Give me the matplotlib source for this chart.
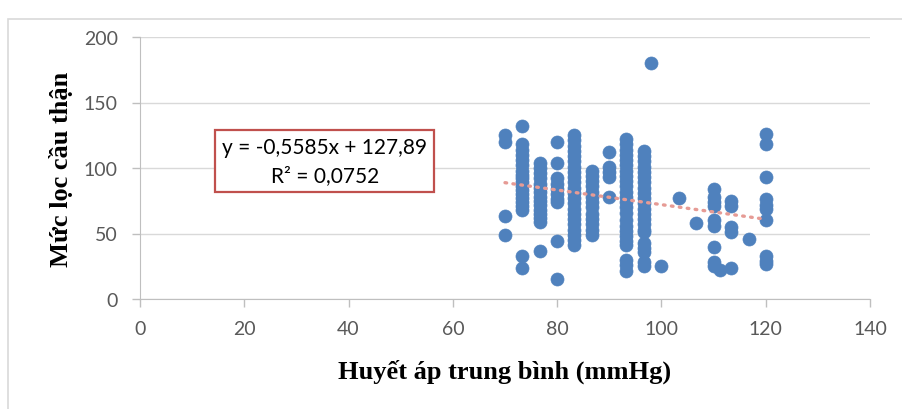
import numpy as np
import matplotlib
matplotlib.use("Agg")
import matplotlib.pyplot as plt
from matplotlib.patches import Rectangle

# mean arterial pressure columns and the kidney filtration values in each
map_cols = [70, 73.3, 76.7, 80, 83.3, 86.7, 90, 93.3, 96.7, 98, 100,
            103.3, 106.7, 110, 111.3, 113.3, 116.7, 120]
gfr_cols = [
    [125, 120, 63, 49],
    [132, 118, 114, 110, 106, 102, 98, 95, 92, 89, 86, 83, 80, 77, 74, 71, 68, 33, 24],
    [104, 100, 96, 92, 88, 85, 82, 78, 75, 72, 68, 65, 62, 59, 37],
    [120, 104, 92, 88, 84, 80, 76, 74, 44, 15],
    [125, 121, 117, 113, 109, 105, 101, 97, 93, 89, 85, 81, 77, 73, 69, 65,
     61, 57, 53, 49, 45, 41],
    [98, 94, 90, 86, 82, 78, 74, 70, 65, 61, 57, 53, 49],
    [112, 101, 97, 93, 78],
    [122, 118, 114, 110, 106, 102, 98, 94, 90, 86, 82, 78, 74, 70, 66, 60,
     56, 52, 48, 44, 41, 30, 26, 21],
    [113, 109, 105, 101, 97, 93, 89, 85, 81, 77, 73, 69, 65, 61, 57, 53, 51,
     43, 39, 36, 28, 25],
    [180],
    [25],
    [77],
    [58],
    [84, 78, 74, 71, 60, 56, 40, 28, 25],
    [22],
    [75, 71, 55, 51, 24],
    [46],
    [126, 118, 93, 76, 72, 69, 60, 33, 29, 27],
]

# trendline as printed on the chart
slope = -0.5585
intercept = 127.89
r2 = 0.0752

x_ticks = [0, 20, 40, 60, 80, 100, 120, 140]
y_ticks = [0, 50, 100, 150, 200]

xs = np.concatenate([[x] * len(ys) for x, ys in zip(map_cols, gfr_cols)])
ys = np.concatenate(gfr_cols)

fig = plt.figure(figsize=(9.02, 4.10), dpi=100)
fig.patches.append(Rectangle((8 / 902, -0.1), 1.1, (400 - 10) / 410 + 0.1,
                             transform=fig.transFigure, fill=False,
                             edgecolor="#D9D9D9", linewidth=1.2))

ax = fig.add_axes([140 / 902, (410 - 300) / 410, 730 / 902, 262 / 410])

ax.scatter(xs, ys, s=88, color="#4F81BD", edgecolor="#4F81BD", linewidth=0.5, zorder=3)

tx = np.array([min(map_cols), max(map_cols)])
ax.plot(tx, slope * tx + intercept, color="#E69B95", linestyle=(0, (0.5, 1.9)),
        linewidth=2.4, dash_capstyle="round", zorder=4)

ax.set_xlim(0, 140)
ax.set_ylim(0, 200)
ax.set_xticks(x_ticks)
ax.set_yticks(y_ticks)
ax.grid(axis="y", color="#D9D9D9", linewidth=1.0)
ax.set_axisbelow(True)
for side in ["top", "right"]:
    ax.spines[side].set_visible(False)
for side in ["left", "bottom"]:
    ax.spines[side].set_color("#BFBFBF")
ax.tick_params(colors="#BFBFBF", length=6, width=1.0, labelcolor="#595959",
               labelsize=14)
for lab in ax.get_xticklabels() + ax.get_yticklabels():
    lab.set_family("Lato")
ax.tick_params(axis="x", pad=9)
ax.tick_params(axis="y", pad=10)

ax.set_xlabel("Huyết áp trung bình (mmHg)", family="Liberation Serif",
              fontweight="bold", fontsize=19, labelpad=16)
ax.set_ylabel("Mức lọc cầu thận", family="Liberation Serif",
              fontweight="bold", fontsize=19, labelpad=8)

eq = "y = {}x + {}\nR² = {}".format(f"{slope:.4f}".replace(".", ","),
                                    f"{intercept:.2f}".replace(".", ","),
                                    f"{r2:.4f}".replace(".", ","))
ax.text(0.253, 0.527, eq, transform=ax.transAxes, ha="center", va="center",
        family="Lato", fontsize=15, color="#000000", linespacing=1.5,
        bbox=dict(boxstyle="square,pad=0.35", facecolor="white",
                  edgecolor="#C0504D", linewidth=1.6), zorder=5)

fig.savefig("out.png", dpi=100)
